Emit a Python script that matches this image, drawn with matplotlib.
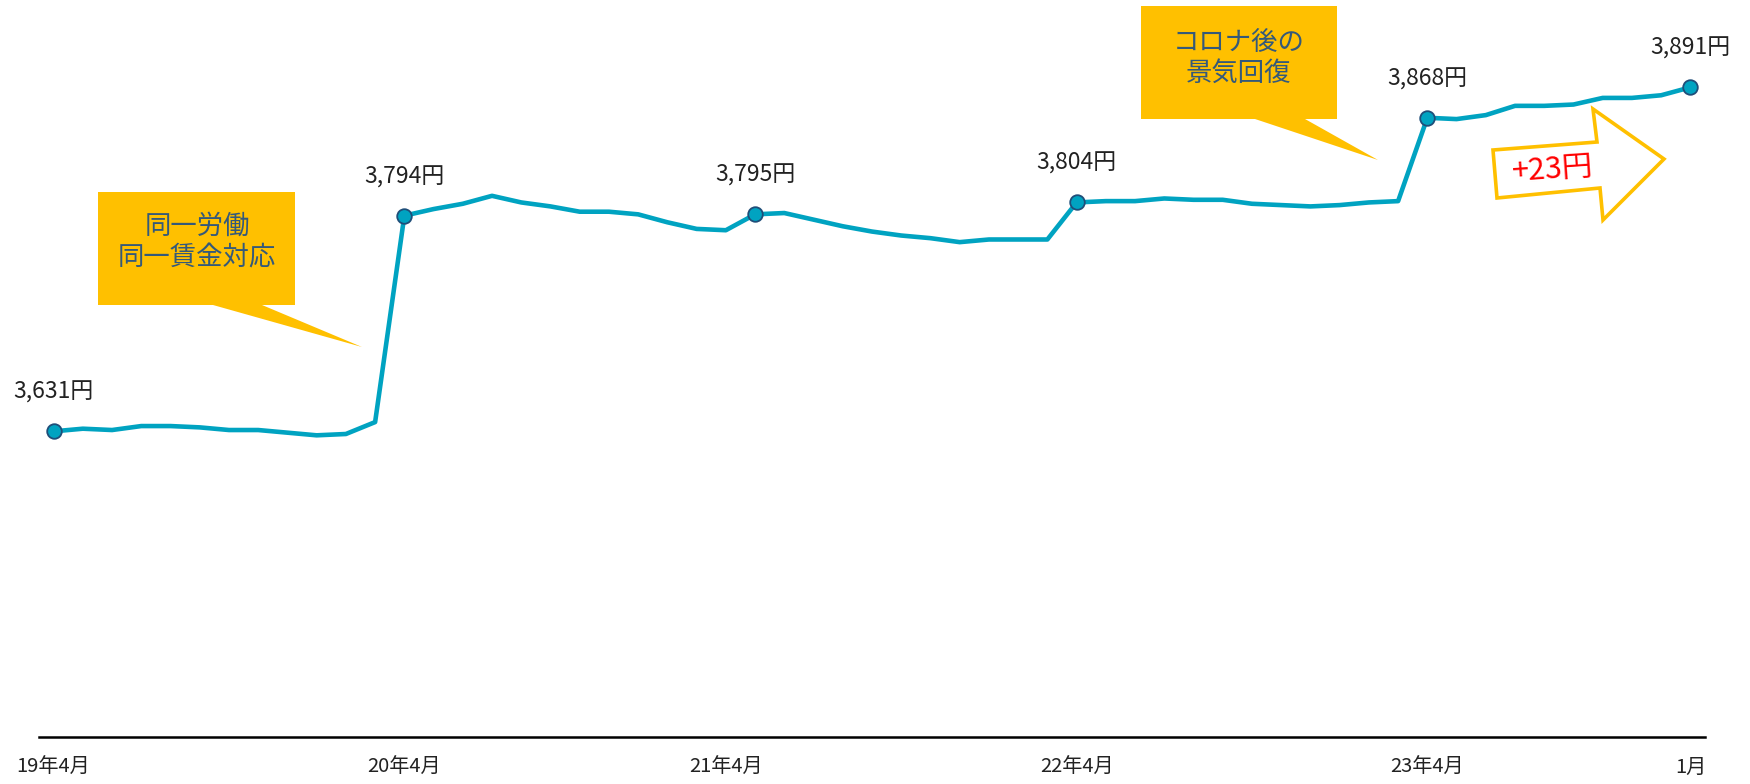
import matplotlib
matplotlib.use("Agg")
import matplotlib.pyplot as plt
from matplotlib.patches import Polygon

plt.rcParams['font.family'] = ['Noto Sans CJK JP', 'DejaVu Sans']

# monthly wage values (yen), 19年4月 .. 24年1月
values = [3631, 3633, 3632, 3635, 3635, 3634, 3632, 3632, 3630, 3628, 3629, 3638,
          3794, 3799, 3803, 3809, 3804, 3801, 3797, 3797, 3795, 3789, 3784, 3783,
          3795, 3796, 3791, 3786, 3782, 3779, 3777, 3774, 3776, 3776, 3776,
          3804, 3805, 3805, 3807, 3806, 3806, 3803, 3802, 3801, 3802, 3804, 3805,
          3868, 3867, 3870, 3877, 3877, 3878, 3883, 3883, 3885, 3891]
marked = [0, 12, 24, 35, 47, 56]
tick_pos = [0, 12, 23, 35, 47, 56]
tick_labels = ["19年4月", "20年4月", "21年4月", "22年4月", "23年4月", "1月"]

W, H = 1750, 784
line_col = "#00A3C1"
call_col = "#FFC000"
text_col = "#34597A"

fig = plt.figure(figsize=(W / 100, H / 100), dpi=100)
ax = fig.add_axes([39 / W, 1 - 737 / H, (1705 - 39) / W, 737 / H])

x = list(range(len(values)))
ax.plot(x, values, color=line_col, lw=3.3, zorder=3)
ax.plot(marked, [values[i] for i in marked], "o", ms=10.5, mfc=line_col,
        mec="#1F4E79", mew=1.3, zorder=4)
for i in marked:
    ax.annotate(f"{values[i]:,}円", (i, values[i]), xytext=(0, 28),
                textcoords="offset points", ha="center", va="center",
                fontsize=16.5, color="#222222")

ax.set_xlim(-0.5, 56.5)
ax.set_ylim(3400, 3957)
ax.set_xticks(tick_pos)
ax.set_xticklabels(tick_labels, fontsize=14.5, color="#222222")
ax.tick_params(axis="x", length=0, pad=14)
ax.set_yticks([])
for s in ["top", "right", "left"]:
    ax.spines[s].set_visible(False)
ax.spines["bottom"].set_linewidth(1.8)
ax.spines["bottom"].set_color("black")


def fp(pts):
    return [(px / W, 1 - py / H) for px, py in pts]


# callout 1
c1 = [(98, 192), (295, 192), (295, 305), (262, 305), (362, 347), (213, 305), (98, 305)]
fig.add_artist(Polygon(fp(c1), closed=True, fc=call_col, ec="none",
                       transform=fig.transFigure, zorder=5))
fig.text(197 / W, 1 - 242 / H, "同一労働\n同一賃金対応", ha="center", va="center",
         fontsize=19, color=text_col, linespacing=1.2, zorder=6)

# callout 2
c2 = [(1141, 6), (1337, 6), (1337, 119), (1305, 119), (1378, 160), (1255, 119), (1141, 119)]
fig.add_artist(Polygon(fp(c2), closed=True, fc=call_col, ec="none",
                       transform=fig.transFigure, zorder=5))
fig.text(1239 / W, 1 - 58 / H, "コロナ後の\n景気回復", ha="center", va="center",
         fontsize=19, color=text_col, linespacing=1.2, zorder=6)

# arrow
arr = [(1493, 150), (1597, 142), (1593, 109), (1664, 159), (1603, 220),
       (1600, 188), (1497, 198)]
fig.add_artist(Polygon(fp(arr), closed=True, fc="white", ec=call_col, lw=2.6,
                       joinstyle="miter", transform=fig.transFigure, zorder=5))
fig.text(1553 / W, 1 - 170 / H, "+23円", ha="center", va="center", rotation=4,
         fontsize=22, color="#FF0000", zorder=6)

fig.savefig("out.png", dpi=100)
